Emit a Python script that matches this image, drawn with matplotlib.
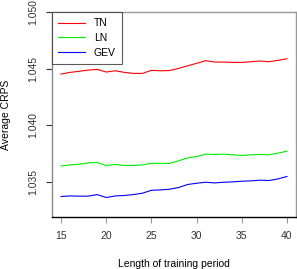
import matplotlib
matplotlib.use("Agg")
import matplotlib.pyplot as plt
import numpy as np

plt.rcParams['font.family'] = ['Liberation Sans', 'DejaVu Sans']

period = np.arange(15, 41)
tn = [1.04452, 1.04467, 1.04476, 1.04487, 1.04493, 1.04470, 1.04481, 1.04467, 1.04458,
      1.04458, 1.04485, 1.04481, 1.04483, 1.04502, 1.04525, 1.04547, 1.04570, 1.04558,
      1.04558, 1.04555, 1.04555, 1.04561, 1.04567, 1.04561, 1.04573, 1.04587]
ln = [1.03641, 1.03650, 1.03656, 1.03668, 1.03671, 1.03645, 1.03654, 1.03645, 1.03645,
      1.03650, 1.03665, 1.03663, 1.03663, 1.03686, 1.03712, 1.03724, 1.03745, 1.03742,
      1.03745, 1.03739, 1.03733, 1.03739, 1.03742, 1.03739, 1.03754, 1.03771]
gev = [1.03371, 1.03376, 1.03374, 1.03374, 1.03388, 1.03362, 1.03376, 1.03380, 1.03388,
       1.03400, 1.03426, 1.03429, 1.03435, 1.03450, 1.03477, 1.03488, 1.03497, 1.03491,
       1.03497, 1.03500, 1.03506, 1.03509, 1.03515, 1.03512, 1.03526, 1.03548]

fig = plt.figure(figsize=(2.97, 2.69), dpi=100)
ax = fig.add_axes([52/297, 52/269, 244/297, 205/269])

ax.plot(period, tn, color='#ff0000', lw=0.8, label='TN')
ax.plot(period, ln, color='#00ee00', lw=0.8, label='LN')
ax.plot(period, gev, color='#0000ff', lw=0.8, label='GEV')

ax.set_xlim(14, 41)
ax.set_ylim(1.0319, 1.050)
ax.set_xticks([15, 20, 25, 30, 35, 40])
ax.set_yticks([1.035, 1.040, 1.045, 1.050])
ax.set_yticklabels(['1.035', '1.040', '1.045', '1.050'], rotation=90, va='center')
ax.tick_params(labelsize=7.5, length=4, width=0.8, colors='#333333')
ax.tick_params(axis='x', color='#999999', pad=6)
ax.tick_params(axis='y', pad=6)

ax.spines['left'].set_color('#888888')
ax.spines['top'].set_color('#999999')
ax.spines['right'].set_color('#999999')
ax.spines['bottom'].set_color('black')
for s in ax.spines.values():
    s.set_linewidth(1.0)

ax.set_xlabel('Length of training period', fontsize=7.5, labelpad=13)
ax.set_ylabel('Average CRPS', fontsize=7.5, labelpad=12)

leg = ax.legend(loc='upper left', bbox_to_anchor=(0, 1), borderaxespad=0,
                fancybox=False, edgecolor='#333333', fontsize=7.5,
                handlelength=2.6, labelspacing=0.45, borderpad=0.6)
leg.get_frame().set_linewidth(0.8)

fig.savefig('out.png', dpi=100)
